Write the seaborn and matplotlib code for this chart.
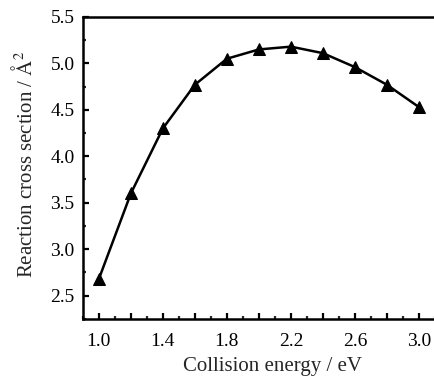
import matplotlib
matplotlib.use("Agg")
import matplotlib.pyplot as plt
import seaborn as sns
import pandas as pd
from matplotlib.ticker import MultipleLocator

energy = [1.0, 1.2, 1.4, 1.6, 1.8, 2.0, 2.2, 2.4, 2.6, 2.8, 3.0]
cross_section = [2.68, 3.60, 4.30, 4.77, 5.05, 5.15, 5.18, 5.11, 4.96, 4.77, 4.53]
x_ticks = [1.0, 1.2, 1.4, 1.6, 1.8, 2.0, 2.2, 2.4, 2.6, 2.8, 3.0]
x_labels = ["1.0", "", "1.4", "", "1.8", "", "2.2", "", "2.6", "", "3.0"]
y_ticks = [2.5, 3.0, 3.5, 4.0, 4.5, 5.0, 5.5]

sns.set_style("ticks")
plt.rcParams['font.family'] = ['Liberation Serif', 'DejaVu Serif']
plt.rcParams['mathtext.fontset'] = 'stix'

df = pd.DataFrame({"energy": energy, "cs": cross_section})

fig = plt.figure(figsize=(4.34, 3.76), dpi=100)
ax = fig.add_axes([0.191, 0.152, 0.811, 0.803])
sns.lineplot(data=df, x="energy", y="cs", ax=ax, color="black", linewidth=1.8,
             marker="^", markersize=8.5, markeredgecolor="black", markerfacecolor="black")

ax.set_xlim(0.9, 3.1)
ax.set_ylim(2.25, 5.5)
ax.set_xticks(x_ticks)
ax.set_xticklabels(x_labels)
ax.set_yticks(y_ticks)
ax.set_yticklabels([f"{v:.1f}" for v in y_ticks])
ax.xaxis.set_minor_locator(MultipleLocator(0.1))
ax.yaxis.set_minor_locator(MultipleLocator(0.25))
ax.tick_params(axis="both", which="major", direction="in", length=4.5, width=1.6,
               labelsize=14, colors="black", pad=6)
ax.tick_params(axis="both", which="minor", direction="in", length=2.5, width=1.6)
ax.tick_params(axis="x", which="major", pad=10)
for s in ["left", "bottom", "top"]:
    ax.spines[s].set_linewidth(1.8)
    ax.spines[s].set_color("black")
ax.spines["right"].set_visible(False)

ax.set_xlabel("Collision energy / eV", fontsize=15)
ax.set_ylabel("Reaction cross section / $\\mathrm{\\AA}^2$", fontsize=15)
ax.xaxis.set_label_coords(0.54, -0.125)
ax.yaxis.set_label_coords(-0.131, 0.513)

fig.savefig("out.png", dpi=100)
